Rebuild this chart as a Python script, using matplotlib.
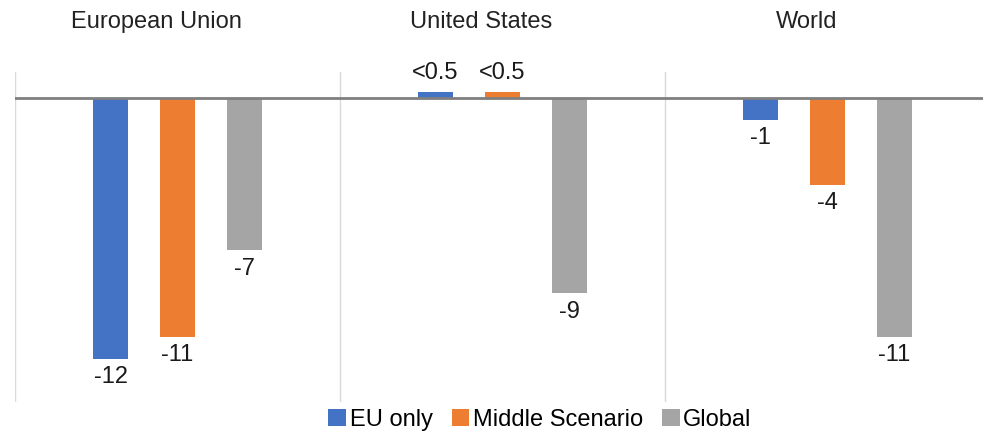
import matplotlib
matplotlib.use('Agg')
import matplotlib.pyplot as plt
import numpy as np

regioes = ["European Union", "United States", "World"]
cenarios = ["EU only", "Middle Scenario", "Global"]
eu_only = [-12, 0.3, -1]
middle = [-11, 0.3, -4]
glob = [-7, -9, -11]
cores = ["#4472C4", "#ED7D31", "#A5A5A5"]

plt.rcParams['font.family'] = ['Liberation Sans', 'DejaVu Sans']

fig = plt.figure(figsize=(9.83, 4.34), dpi=100)
ax = fig.add_axes([15 / 983, 32 / 434, 968 / 983, 330 / 434])

largura = 0.105
passo = 0.206
x = np.arange(len(regioes)) + 0.5

for i, (serie, cor, nome) in enumerate(zip([eu_only, middle, glob], cores, cenarios)):
    xs = x + (i - 1) * passo
    ax.bar(xs, serie, width=largura, color=cor, label=nome, zorder=2)
    for xi, v in zip(xs, serie):
        if 0 < v < 0.5:
            ax.text(xi, v + 0.35, "<0.5", ha='center', va='bottom',
                    fontsize=17, color='#1a1a1a')
        else:
            ax.text(xi, v - 0.35, f"{v:g}", ha='center', va='top',
                    fontsize=17, color='#1a1a1a')

# separadores entre regioes
for g in range(len(regioes) + 1):
    ax.axvline(g, color='#d9d9d9', linewidth=1, zorder=0)
ax.axhline(0, color='#7f7f7f', linewidth=2, zorder=3)

# nomes das regioes no topo
for xi, nome in zip(x, regioes):
    ax.text(xi - 0.065, 1.152, nome, transform=ax.get_xaxis_transform(),
            fontsize=17, ha='center', va='center', color='#222222', clip_on=False)

ax.set_xlim(0, 968 / 325)
ax.set_ylim(-14, 1.2)
ax.axis('off')

fig.legend(loc='center', bbox_to_anchor=(540 / 983, 1 - 420 / 434), ncol=3,
           frameon=False, fontsize=17, handlelength=0.75, handleheight=0.75,
           handletextpad=0.15, columnspacing=0.8, borderaxespad=0)

plt.savefig('out.png', dpi=100)
plt.close()
